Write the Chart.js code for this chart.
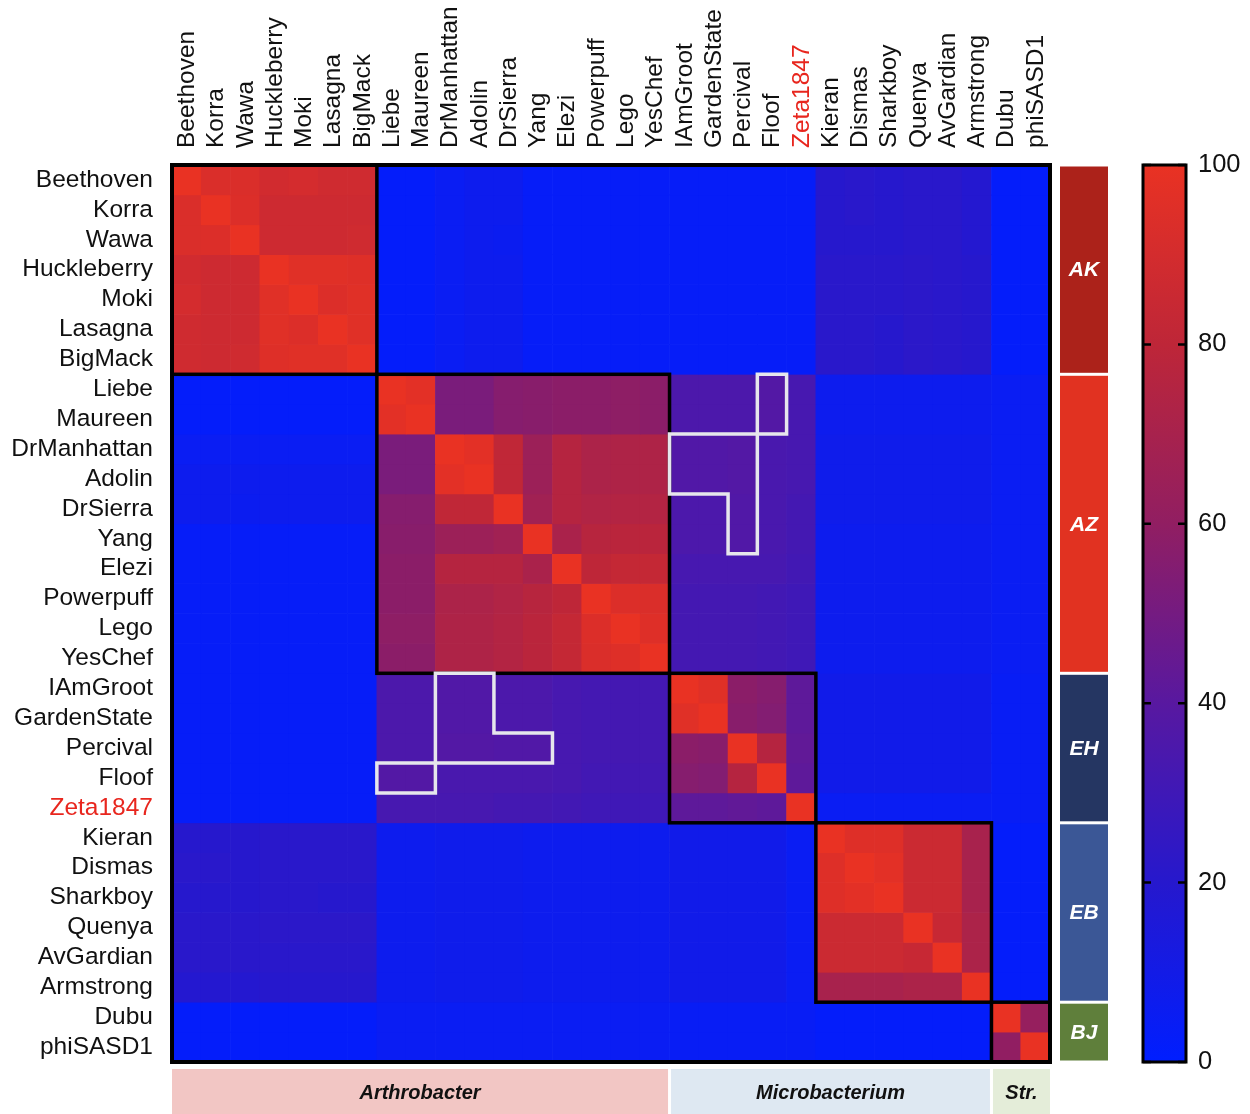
<!DOCTYPE html>
<html><head><meta charset="utf-8">
<script src="https://cdn.jsdelivr.net/npm/chart.js@4.4.1/dist/chart.umd.min.js"></script>
<style>html,body{margin:0;padding:0;background:#fff;overflow:hidden}canvas{display:block}</style>
</head><body>
<canvas id="c" width="1250" height="1114" style="width:1250px;height:1114px"></canvas>
<script>
// ---------------- DATA ----------------
const phages = ['Beethoven','Korra','Wawa','Huckleberry','Moki','Lasagna','BigMack',
  'Liebe','Maureen','DrManhattan','Adolin','DrSierra','Yang','Elezi','Powerpuff','Lego','YesChef',
  'IAmGroot','GardenState','Percival','Floof','Zeta1847',
  'Kieran','Dismas','Sharkboy','Quenya','AvGardian','Armstrong',
  'Dubu','phiSASD1'];
const highlightedPhage = 'Zeta1847';
const clusterNames = ['AK','AZ','EH','EB','BJ'];
const clusterSizes = [7,10,5,6,2];
const genusNames = ['Arthrobacter','Microbacterium','Str.'];
const genusSizes = [17,11,2];
const colorbarTicks = [0,20,40,60,80,100];
// outlined cell groups [row, col]
const outlinedCellsUpper = [[7,20],[8,20],[9,17],[9,18],[9,19],[10,17],[10,18],[10,19],[11,19],[12,19]];
const outlinedCellsLower = [[20,7],[20,8],[17,9],[18,9],[19,9],[17,10],[18,10],[19,10],[19,11],[19,12]];

// similarity (%) rows; columns in the same order as phages
//            AK                          | AZ                                    | EH                | EB                    | BJ
const similarity = [
 [100,93,93,89,90,88,88,   2,2,5,7,7,3,3,3,3,3,   3,3,3,3,3,   20,21,20,21,21,19,  2,2],
 [93,100,94,87,87,87,87,   2,2,5,7,7,3,3,3,3,3,   3,3,3,3,3,   20,21,20,21,21,19,  2,2],
 [93,94,100,87,87,87,88,   2,2,5,7,6,3,3,3,3,3,   3,3,3,3,3,   20,20,20,21,21,19,  2,2],
 [89,87,87,100,96,96,95,   2,2,5,7,7,3,3,3,3,3,   3,3,3,3,3,   21,21,21,22,21,20,  2,2],
 [90,87,87,96,100,94,96,   2,2,5,7,7,3,3,3,3,3,   3,3,3,3,3,   21,21,21,22,21,20,  2,2],
 [88,87,87,96,94,100,96,   2,2,5,7,7,3,3,3,3,3,   3,3,3,3,3,   21,21,20,22,21,20,  2,2],
 [88,87,88,95,96,96,100,   2,2,5,7,7,3,3,3,3,3,   3,3,3,3,3,   21,21,20,22,21,20,  2,2],
 [2,2,2,2,2,2,2,   100,97,52,52,56,57,58,58,59,58,   35,35,35,38,33,   7,7,7,7,7,7,  5,5],
 [2,2,2,2,2,2,2,   97,100,52,52,56,57,58,58,59,58,   35,35,35,38,33,   7,7,7,7,7,7,  5,5],
 [5,5,5,5,5,5,5,   52,52,100,97,81,65,76,72,73,73,   37,37,38,34,33,   8,8,8,8,8,8,  5,5],
 [7,7,7,7,7,7,7,   52,52,97,100,81,65,76,72,73,73,   37,37,38,34,33,   8,8,8,8,8,8,  5,5],
 [7,7,6,7,7,7,7,   56,56,81,81,100,67,76,74,75,75,   35,35,37,34,32,   8,8,8,8,8,8,  5,5],
 [3,3,3,3,3,3,3,   57,57,65,65,67,100,71,77,78,78,   35,35,37,34,32,   7,7,7,7,7,7,  5,5],
 [3,3,3,3,3,3,3,   58,58,76,76,76,71,100,80,83,83,   33,33,33,33,31,   7,7,7,7,7,7,  5,5],
 [3,3,3,3,3,3,3,   58,58,72,72,74,77,80,100,94,93,   32,32,32,31,30,   7,7,7,7,7,7,  5,5],
 [3,3,3,3,3,3,3,   59,59,73,73,75,78,83,94,100,95,   32,32,32,31,30,   7,7,7,7,7,7,  5,5],
 [3,3,3,3,3,3,3,   58,58,73,73,75,78,83,93,95,100,   32,32,32,31,30,   7,7,7,7,7,7,  5,5],
 [3,3,3,3,3,3,3,   35,35,37,37,35,35,33,32,32,32,   100,96,58,56,42,   9,9,9,9,9,9,  4,4],
 [3,3,3,3,3,3,3,   35,35,37,37,35,35,33,32,32,32,   96,100,57,55,42,   9,9,9,9,9,9,  4,4],
 [3,3,3,3,3,3,3,   35,35,38,38,37,37,33,32,32,32,   58,57,100,76,43,   9,9,9,9,9,9,  4,4],
 [3,3,3,3,3,3,3,   38,38,34,34,34,34,33,31,31,31,   56,55,76,100,42,   9,9,9,9,9,9,  4,4],
 [3,3,3,3,3,3,3,   33,33,33,33,32,32,31,30,30,30,   42,42,43,42,100,   5,5,5,5,5,5,  4,4],
 [20,20,20,21,21,21,21,   7,7,8,8,8,7,7,7,7,7,   9,9,9,9,5,   100,95,95,86,86,70,  2,2],
 [21,21,20,21,21,21,21,   7,7,8,8,8,7,7,7,7,7,   9,9,9,9,5,   95,100,97,86,86,70,  2,2],
 [20,20,20,21,21,20,20,   7,7,8,8,8,7,7,7,7,7,   9,9,9,9,5,   95,97,100,86,86,70,  2,2],
 [21,21,21,22,22,22,22,   7,7,8,8,8,7,7,7,7,7,   9,9,9,9,5,   86,86,86,100,84,72,  2,2],
 [21,21,21,21,21,21,21,   7,7,8,8,8,7,7,7,7,7,   9,9,9,9,5,   86,86,86,84,100,72,  2,2],
 [19,19,19,20,20,20,20,   7,7,8,8,8,7,7,7,7,7,   9,9,9,9,5,   70,70,70,72,72,100,  2,2],
 [2,2,2,2,2,2,2,   5,5,5,5,5,5,5,5,5,5,   4,4,4,4,4,   2,2,2,2,2,2,  100,62],
 [2,2,2,2,2,2,2,   5,5,5,5,5,5,5,5,5,5,   4,4,4,4,4,   2,2,2,2,2,2,  60,100]
];

// ---------------- STYLE ----------------
const FONT = '"Liberation Sans", Arial, Helvetica, sans-serif';
const clusterColors = ['#AC221A','#E13221','#253662','#3B5796','#5F7F3B'];
const genusColors = ['#F2C6C4','#DEE8F2','#E4EDD9'];
const colorStops = [[0,[0,30,255]],[20,[38,24,205]],[40,[88,24,160]],[60,[145,30,98]],[80,[190,38,56]],[100,[233,50,35]]];

function valueToColor(v){
  for (let i=1;i<colorStops.length;i++){
    const [v1,c1]=colorStops[i], [v0,c0]=colorStops[i-1];
    if (v<=v1){
      const t=(v-v0)/(v1-v0);
      return 'rgb('+c0.map((c,k)=>Math.round(c+(c1[k]-c)*t)).join(',')+')';
    }
  }
  return 'rgb('+colorStops[colorStops.length-1][1].join(',')+')';
}

const datasets = similarity.map((row,r)=>({
  label: phages[r],
  data: row.map(()=>1),
  backgroundColor: row.map(valueToColor),
  borderWidth: 0,
  barPercentage: 1,
  categoryPercentage: 1,
  stack: 'rows'
}));

function bounds(sizes){ const b=[0]; sizes.forEach(s=>b.push(b[b.length-1]+s)); return b; }

const overlay = {
  id:'overlay',
  beforeDraw(chart){ const c=chart.ctx; c.save(); c.fillStyle='#fff'; c.fillRect(0,0,chart.width,chart.height); c.restore(); },
  afterDatasetsDraw(chart){
    const {ctx, chartArea:ca, scales} = chart;
    const x=scales.x, y=scales.y, cb=scales.cb;
    const cx = i => x.getPixelForValue(i-0.5);
    const ry = i => y.getPixelForValue(i);
    ctx.save();
    // black cluster boxes
    const cbnd = bounds(clusterSizes);
    ctx.strokeStyle='#000'; ctx.lineWidth=3.5; ctx.lineJoin='miter';
    for (let k=0;k<clusterSizes.length;k++){
      const s=cbnd[k], e=cbnd[k+1];
      ctx.strokeRect(cx(s), ry(s), cx(e)-cx(s), ry(e)-ry(s));
    }
    ctx.lineWidth=4;
    ctx.strokeRect(ca.left, ca.top, ca.right-ca.left, ca.bottom-ca.top);
    // white outlines
    ctx.strokeStyle='#E6E6EC'; ctx.lineWidth=3.5; ctx.lineCap='square';
    [outlinedCellsUpper, outlinedCellsLower].forEach(cells=>{
      const has=(r,c)=>cells.some(p=>p[0]===r&&p[1]===c);
      ctx.beginPath();
      cells.forEach(([r,c])=>{
        if(!has(r-1,c)){ctx.moveTo(cx(c),ry(r));ctx.lineTo(cx(c+1),ry(r));}
        if(!has(r+1,c)){ctx.moveTo(cx(c),ry(r+1));ctx.lineTo(cx(c+1),ry(r+1));}
        if(!has(r,c-1)){ctx.moveTo(cx(c),ry(r));ctx.lineTo(cx(c),ry(r+1));}
        if(!has(r,c+1)){ctx.moveTo(cx(c+1),ry(r));ctx.lineTo(cx(c+1),ry(r+1));}
      });
      ctx.stroke();
    });
    // cluster side bar
    ctx.textAlign='center'; ctx.textBaseline='middle';
    for (let k=0;k<clusterSizes.length;k++){
      const s=cbnd[k], e=cbnd[k+1];
      const top=ry(s)+1.5, bot=ry(e)-1.5;
      ctx.fillStyle=clusterColors[k];
      ctx.fillRect(ca.right+10, top, 48, bot-top);
      ctx.fillStyle='#fff'; ctx.font='italic bold 21px '+FONT;
      ctx.fillText(clusterNames[k], ca.right+34, (top+bot)/2+1);
    }
    // genus bar
    const gbnd=bounds(genusSizes);
    for (let k=0;k<genusSizes.length;k++){
      const l=cx(gbnd[k])+(k?1.5:0), r=cx(gbnd[k+1])-(k<genusSizes.length-1?1.5:0);
      ctx.fillStyle=genusColors[k];
      ctx.fillRect(l, ca.bottom+7, r-l, chart.height-ca.bottom-7);
      ctx.fillStyle='#111'; ctx.font='italic bold 20px '+FONT;
      ctx.fillText(genusNames[k], (l+r)/2, ca.bottom+31);
    }
    // colour bar
    const x0=ca.right+93, w=43, yt=cb.getPixelForValue(100), yb=cb.getPixelForValue(0);
    const g=ctx.createLinearGradient(0,yb,0,yt);
    colorStops.forEach(([v,c])=>g.addColorStop(v/100,'rgb('+c.join(',')+')'));
    ctx.fillStyle=g; ctx.fillRect(x0,yt,w,yb-yt);
    ctx.strokeStyle='#000'; ctx.lineWidth=3; ctx.lineCap='butt';
    ctx.strokeRect(x0,yt,w,yb-yt);
    ctx.lineWidth=2.5;
    colorbarTicks.forEach(v=>{
      const py=cb.getPixelForValue(v);
      ctx.beginPath(); ctx.moveTo(x0,py); ctx.lineTo(x0+8,py); ctx.moveTo(x0+w-8,py); ctx.lineTo(x0+w,py); ctx.stroke();
    });
    ctx.restore();
  }
};

const zeroPad = s => { s.paddingTop=0; s.paddingBottom=0; s.paddingLeft=0; s.paddingRight=0; };

new Chart(document.getElementById('c'), {
  type:'bar',
  data:{ labels: phages, datasets },
  options:{
    responsive:false, animation:false, devicePixelRatio:1,
    events:[],
    layout:{ padding:{left:0,right:0,top:0,bottom:52} },
    plugins:{ legend:{display:false}, tooltip:{enabled:false} },
    scales:{
      x:{ type:'category', position:'top', stacked:true,
          grid:{display:false, drawTicks:false}, border:{display:false},
          ticks:{ autoSkip:false, minRotation:90, maxRotation:90, padding:17, labelOffset:30,
                  font:{family:FONT,size:24.5},
                  color:(c)=> phages[c.index]===highlightedPhage ? '#E8261E' : '#111' },
          afterFit(s){ s.height=165; zeroPad(s); } },
      y:{ type:'linear', position:'left', stacked:true, reverse:true, min:0, max:phages.length,
          grid:{display:false, drawTicks:false}, border:{display:false},
          afterBuildTicks(s){ s.ticks = phages.map((p,i)=>({value:i+0.5})); },
          ticks:{ autoSkip:false, padding:19, font:{family:FONT,size:24.5},
                  callback:(v)=>phages[Math.floor(v)],
                  color:(c)=> phages[c.index]===highlightedPhage ? '#E8261E' : '#111' },
          afterFit(s){ s.width=172; zeroPad(s); } },
      cb:{ type:'linear', axis:'y', position:'right', min:0, max:100,
           grid:{display:false, drawTicks:false}, border:{display:false},
           afterBuildTicks(s){ s.ticks = colorbarTicks.map(v=>({value:v})); },
           ticks:{ padding:148, font:{family:FONT,size:25.5}, color:'#111' },
           afterFit(s){ s.width=200; zeroPad(s); } }
    }
  },
  plugins:[overlay]
});
</script>
</body></html>
